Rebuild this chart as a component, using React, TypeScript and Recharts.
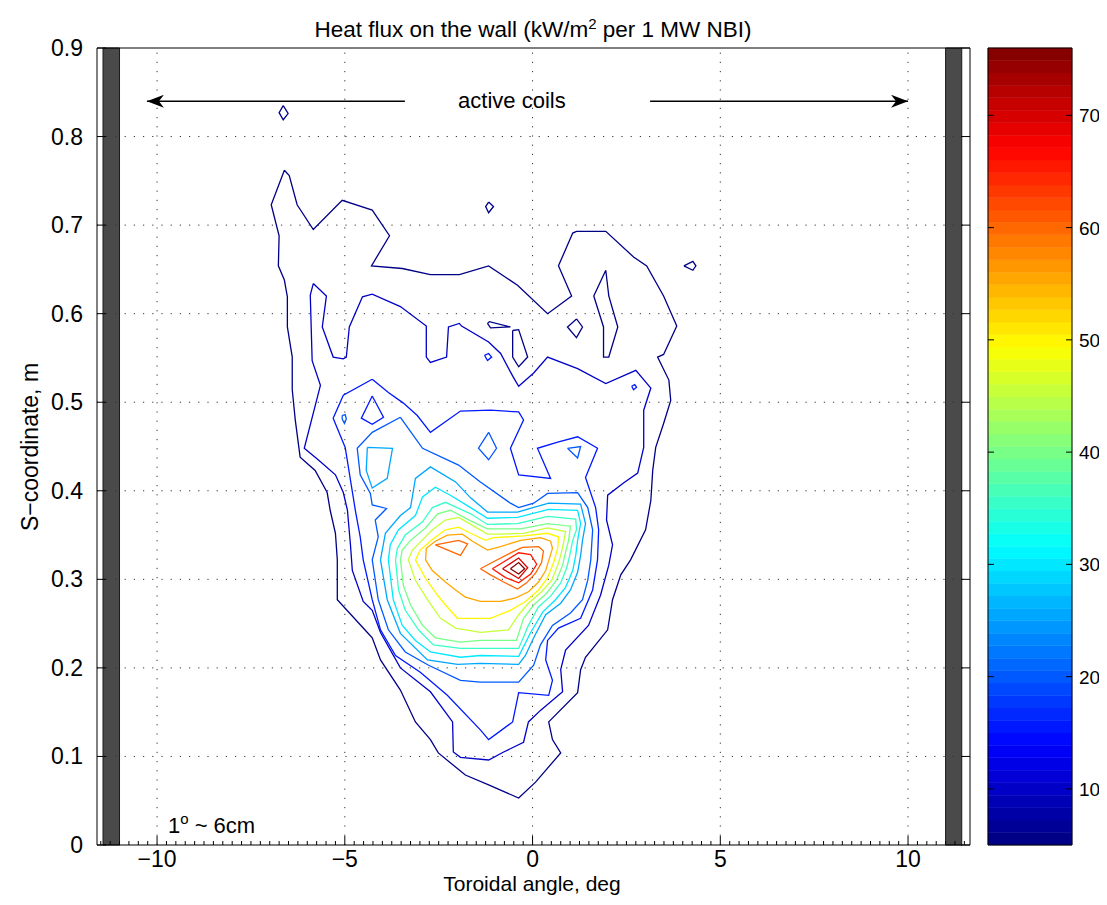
import React from 'react';
import { ScatterChart, Scatter, XAxis, YAxis, ReferenceLine, ReferenceArea } from 'recharts';

const FONT = '"Liberation Sans", Arial, Helvetica, sans-serif';

// axes
const X_DOMAIN = [-11.6, 11.65];
const Y_DOMAIN = [0, 0.9];
const MAJOR_X = [-10, -5, 0, 5, 10];
const Y_TICKS = [0, 0.1, 0.2, 0.3, 0.4, 0.5, 0.6, 0.7, 0.8, 0.9];
const Y_LABELS = ['0', '0.1', '0.2', '0.3', '0.4', '0.5', '0.6', '0.7', '0.8', '0.9'];
const MINOR_STEP = 0.25;
const X_TICKS: number[] = [];
for (let v = -11.5; v <= 11.5; v += MINOR_STEP) X_TICKS.push(v);

// colour scale
const CB_MIN = 5;
const CB_MAX = 76;
const CB_N = 64;
const CB_TICKS = [10, 20, 30, 40, 50, 60, 70];

// wall tiles (deg)
const WALL_LEFT = [-11.44, -11.0];
const WALL_RIGHT = [11.0, 11.43];

// annotations
const ARROW_Y = 0.84;
const ARROW_LEFT = [[-3.4, ARROW_Y], [-10.27, ARROW_Y]];
const ARROW_RIGHT = [[3.13, ARROW_Y], [10.0, ARROW_Y]];
const COILS_LABEL = [-0.55, 0.832];
const SCALE_LABEL = [-9.71, 0.0135];

// contour lines, [toroidal angle, s] ; level in kW/m2
const C5_OUTER = [[-6.61,0.762],[-6.48,0.756],[-6.27,0.723],[-5.84,0.695],[-5.07,0.728],[-4.27,0.717],[-3.81,0.688],[-4.29,0.654],[-3.47,0.651],[-2.72,0.644],[-1.95,0.644],[-1.17,0.654],[-0.40,0.632],[0.40,0.600],[1.04,0.620],[0.69,0.654],[1.07,0.691],[1.17,0.693],[1.95,0.693],[2.69,0.664],[3.04,0.654],[3.49,0.620],[3.84,0.586],[3.49,0.554],[3.33,0.551],[3.63,0.525],[3.68,0.502],[3.49,0.476],[3.28,0.449],[3.20,0.423],[3.15,0.389],[3.01,0.356],[2.61,0.322],[2.35,0.305],[2.13,0.277],[2.00,0.243],[1.41,0.212],[1.28,0.198],[1.20,0.172],[0.43,0.139],[0.53,0.119],[0.75,0.104],[0.08,0.071],[-0.37,0.053],[-1.17,0.068],[-1.79,0.079],[-2.51,0.104],[-2.72,0.119],[-3.12,0.139],[-3.52,0.175],[-4.05,0.209],[-4.27,0.234],[-4.40,0.240],[-5.20,0.277],[-5.20,0.322],[-5.25,0.352],[-5.39,0.378],[-5.47,0.398],[-5.79,0.423],[-6.19,0.438],[-6.32,0.480],[-6.40,0.514],[-6.40,0.551],[-6.53,0.585],[-6.53,0.619],[-6.61,0.638],[-6.77,0.654],[-6.75,0.688],[-6.96,0.723]];
const C5_A = [[-6.64,0.835],[-6.51,0.826],[-6.64,0.819],[-6.75,0.827]];
const C5_B = [[-1.17,0.726],[-1.04,0.721],[-1.17,0.714],[-1.25,0.721]];
const C5_C = [[4.03,0.654],[4.27,0.659],[4.35,0.654],[4.27,0.649]];
const C5_D = [[1.95,0.649],[2.03,0.620],[2.27,0.585],[2.03,0.551],[1.89,0.551],[1.89,0.585],[1.63,0.620]];
const C5_E = [[1.17,0.594],[1.33,0.585],[1.17,0.573],[0.93,0.585]];
const C5_F = [[-1.20,0.589],[-1.15,0.591],[-0.59,0.585],[-1.12,0.584]];
const C5_G = [[-0.53,0.581],[-0.37,0.582],[-0.13,0.551],[-0.37,0.540],[-0.53,0.551]];

const C10_MAIN = [[-5.84,0.634],[-5.49,0.620],[-5.60,0.585],[-5.31,0.551],[-5.04,0.549],[-4.96,0.551],[-4.88,0.585],[-4.53,0.619],[-4.27,0.622],[-3.52,0.608],[-2.83,0.586],[-2.83,0.551],[-2.72,0.545],[-2.29,0.551],[-2.24,0.585],[-1.95,0.589],[-1.89,0.586],[-1.17,0.568],[-0.85,0.555],[-0.51,0.528],[-0.37,0.518],[0.03,0.533],[0.40,0.551],[1.20,0.538],[1.95,0.521],[2.75,0.536],[3.15,0.516],[2.96,0.491],[2.96,0.449],[2.80,0.420],[2.43,0.409],[2.00,0.395],[1.97,0.367],[2.13,0.339],[2.03,0.316],[1.81,0.282],[1.49,0.248],[0.88,0.220],[0.75,0.198],[0.80,0.173],[0.21,0.152],[-0.11,0.139],[-0.24,0.116],[-0.77,0.105],[-1.17,0.096],[-1.92,0.099],[-2.11,0.105],[-2.13,0.139],[-2.72,0.173],[-3.52,0.200],[-4.05,0.240],[-4.27,0.265],[-4.51,0.275],[-4.80,0.310],[-4.85,0.339],[-4.93,0.378],[-5.04,0.398],[-5.25,0.418],[-5.71,0.435],[-6.08,0.448],[-5.65,0.519],[-5.87,0.547],[-5.92,0.621]];

const C15_MAIN = [[-4.27,0.526],[-3.84,0.511],[-3.44,0.499],[-3.07,0.485],[-2.72,0.466],[-1.92,0.490],[-1.12,0.491],[-0.37,0.489],[-0.24,0.480],[-0.59,0.448],[-0.37,0.418],[0.48,0.414],[0.13,0.448],[0.67,0.455],[1.20,0.461],[1.73,0.448],[1.41,0.415],[1.68,0.381],[1.76,0.356],[1.73,0.322],[1.60,0.288],[1.28,0.256],[0.69,0.245],[0.40,0.231],[0.35,0.209],[0.53,0.186],[0.43,0.169],[-0.37,0.172],[-0.53,0.139],[-1.17,0.119],[-1.39,0.130],[-2.27,0.169],[-2.99,0.195],[-3.65,0.214],[-4.05,0.243],[-4.27,0.277],[-4.51,0.322],[-4.59,0.348],[-4.72,0.378],[-4.99,0.449],[-5.31,0.482],[-5.04,0.508]];
const C15_A = [[-1.28,0.553],[-1.17,0.555],[-1.09,0.551],[-1.20,0.547]];
const C15_B = [[2.64,0.518],[2.72,0.520],[2.77,0.517],[2.69,0.514]];
const C15_HOLE = [[-4.27,0.507],[-3.97,0.483],[-4.27,0.475],[-4.56,0.482]];

const C20_MAIN = [[-3.52,0.483],[-2.93,0.448],[-1.97,0.429],[-1.39,0.410],[-0.59,0.386],[-0.37,0.381],[0.03,0.386],[0.40,0.397],[1.20,0.398],[1.47,0.381],[1.60,0.356],[1.55,0.322],[1.47,0.299],[1.33,0.277],[1.01,0.262],[0.53,0.248],[0.21,0.226],[0.03,0.203],[-0.37,0.184],[-1.39,0.184],[-1.92,0.186],[-2.77,0.203],[-3.39,0.218],[-3.84,0.243],[-4.11,0.277],[-4.27,0.322],[-4.11,0.348],[-4.19,0.367],[-3.89,0.380],[-4.27,0.384],[-4.32,0.397],[-4.59,0.418],[-4.67,0.448],[-4.27,0.466]];
const C20_A = [[-5.07,0.485],[-4.99,0.486],[-4.96,0.481],[-5.01,0.476],[-5.07,0.481]];
const C20_B = [[-1.17,0.466],[-0.96,0.448],[-1.17,0.435],[-1.44,0.448]];
const C20_C = [[0.93,0.448],[1.28,0.450],[1.20,0.437]];

const C25_MAIN = [[-4.05,0.322],[-3.92,0.352],[-3.52,0.372],[-3.25,0.381],[-3.12,0.414],[-2.72,0.427],[-2.05,0.410],[-1.65,0.392],[-1.20,0.376],[-0.40,0.376],[0.43,0.386],[1.28,0.385],[1.41,0.363],[1.33,0.344],[1.28,0.327],[1.20,0.308],[1.01,0.288],[0.75,0.273],[0.35,0.260],[0.03,0.234],[-0.19,0.214],[-0.37,0.204],[-1.39,0.205],[-2.00,0.204],[-2.80,0.209],[-3.52,0.239],[-3.87,0.277]];
const C25_A = [[-4.40,0.449],[-3.73,0.448],[-3.87,0.414],[-4.27,0.403],[-4.43,0.423]];

const C30 = [[-3.84,0.322],[-3.79,0.339],[-3.57,0.356],[-3.12,0.372],[-2.93,0.393],[-2.59,0.404],[-2.19,0.395],[-1.65,0.381],[-1.20,0.369],[-0.40,0.370],[0.43,0.379],[1.20,0.378],[1.28,0.363],[1.20,0.344],[1.15,0.327],[1.07,0.310],[0.88,0.291],[0.61,0.277],[0.27,0.263],[-0.05,0.240],[-0.37,0.213],[-1.39,0.214],[-1.92,0.212],[-2.72,0.218],[-3.12,0.231],[-3.47,0.248],[-3.71,0.277]];
const C35 = [[-3.65,0.322],[-3.60,0.335],[-3.39,0.350],[-2.93,0.365],[-2.67,0.381],[-2.32,0.387],[-1.65,0.374],[-1.20,0.362],[-0.40,0.363],[0.40,0.371],[1.15,0.368],[1.17,0.356],[1.07,0.344],[0.99,0.327],[0.91,0.313],[0.75,0.296],[0.48,0.281],[0.16,0.269],[-0.11,0.248],[-0.37,0.222],[-1.39,0.222],[-1.92,0.222],[-2.64,0.226],[-3.04,0.243],[-3.39,0.265],[-3.57,0.288]];
const C40 = [[-3.52,0.322],[-3.47,0.333],[-3.25,0.344],[-2.85,0.358],[-2.53,0.374],[-2.19,0.378],[-1.65,0.366],[-1.20,0.357],[-0.32,0.357],[0.40,0.363],[1.01,0.360],[0.96,0.344],[0.88,0.331],[0.80,0.316],[0.64,0.299],[0.37,0.284],[0.03,0.271],[-0.24,0.256],[-0.43,0.231],[-1.39,0.231],[-1.92,0.229],[-2.59,0.234],[-2.93,0.248],[-3.25,0.271],[-3.44,0.293]];
const C45 = [[-3.31,0.322],[-3.20,0.333],[-2.99,0.342],[-2.67,0.356],[-2.32,0.367],[-1.97,0.370],[-1.60,0.361],[-1.20,0.351],[-0.85,0.351],[-0.24,0.352],[0.40,0.358],[0.88,0.354],[0.83,0.342],[0.75,0.327],[0.67,0.316],[0.51,0.299],[0.24,0.286],[-0.11,0.273],[-0.37,0.260],[-0.64,0.243],[-1.39,0.240],[-2.05,0.245],[-2.45,0.256],[-2.80,0.277],[-3.12,0.299]];
const C50 = [[-3.12,0.322],[-2.99,0.333],[-2.67,0.345],[-2.32,0.356],[-1.97,0.359],[-1.65,0.352],[-1.25,0.344],[-1.04,0.347],[-0.24,0.349],[0.40,0.352],[0.69,0.348],[0.67,0.335],[0.56,0.319],[0.40,0.302],[0.16,0.288],[-0.19,0.275],[-0.59,0.265],[-1.12,0.256],[-2.00,0.256],[-2.32,0.271],[-2.53,0.282],[-2.85,0.301]];
const C55 = [[-2.85,0.322],[-2.83,0.335],[-2.59,0.343],[-2.27,0.350],[-1.87,0.351],[-1.60,0.343],[-1.20,0.333],[-0.85,0.337],[-0.32,0.344],[0.21,0.347],[0.48,0.343],[0.53,0.335],[0.45,0.324],[0.35,0.310],[0.16,0.297],[-0.11,0.286],[-0.45,0.279],[-0.85,0.275],[-1.39,0.275],[-1.79,0.280],[-2.05,0.288],[-2.32,0.297],[-2.67,0.310]];
const C60_A = [[-2.59,0.339],[-1.97,0.344],[-1.73,0.340],[-1.92,0.327]];
const C60_B = [[-1.39,0.312],[-0.99,0.321],[-0.53,0.331],[-0.27,0.336],[0.16,0.337],[0.29,0.332],[0.24,0.319],[0.08,0.307],[-0.16,0.296],[-0.40,0.289],[-0.77,0.297],[-1.12,0.305]];
const C65 = [[-1.07,0.312],[-0.72,0.321],[-0.37,0.330],[-0.05,0.328],[0.11,0.317],[-0.05,0.306],[-0.37,0.296],[-0.72,0.302]];
const C70 = [[-0.80,0.312],[-0.37,0.324],[-0.13,0.313],[-0.37,0.301]];
const C75 = [[-0.59,0.312],[-0.37,0.319],[-0.21,0.312],[-0.37,0.306]];

const CONTOURS = [
  { level: 5, pts: C5_OUTER }, { level: 5, pts: C5_A }, { level: 5, pts: C5_B }, { level: 5, pts: C5_C },
  { level: 5, pts: C5_D }, { level: 5, pts: C5_E }, { level: 5, pts: C5_F }, { level: 5, pts: C5_G },
  { level: 10, pts: C10_MAIN },
  { level: 15, pts: C15_MAIN }, { level: 15, pts: C15_A }, { level: 15, pts: C15_B }, { level: 15, pts: C15_HOLE },
  { level: 20, pts: C20_MAIN }, { level: 20, pts: C20_A }, { level: 20, pts: C20_B }, { level: 20, pts: C20_C },
  { level: 25, pts: C25_MAIN }, { level: 25, pts: C25_A },
  { level: 30, pts: C30 }, { level: 35, pts: C35 }, { level: 40, pts: C40 }, { level: 45, pts: C45 },
  { level: 50, pts: C50 }, { level: 55, pts: C55 },
  { level: 60, pts: C60_A }, { level: 60, pts: C60_B },
  { level: 65, pts: C65 }, { level: 70, pts: C70 }, { level: 75, pts: C75 },
];

// jet colormap
const jet = (t: number) => {
  const c = (v: number) => Math.max(0, Math.min(1, v));
  const r = c(1.5 - Math.abs(4 * t - 3));
  const g = c(1.5 - Math.abs(4 * t - 2));
  const b = c(1.5 - Math.abs(4 * t - 1));
  return `rgb(${Math.round(r * 255)},${Math.round(g * 255)},${Math.round(b * 255)})`;
};
const levelColor = (v: number) => {
  const i = Math.min(CB_N - 1, Math.max(0, Math.floor(((v - CB_MIN) / (CB_MAX - CB_MIN)) * CB_N)));
  return jet((i + 0.5) / CB_N);
};
const BANDS = Array.from({ length: CB_N }, (_, i) => ({
  y1: CB_MIN + (i * (CB_MAX - CB_MIN)) / CB_N,
  y2: CB_MIN + ((i + 1) * (CB_MAX - CB_MIN)) / CB_N,
  color: jet((i + 0.5) / CB_N),
}));

const closed = (pts: number[][]) => pts.concat([pts[0]]).map(([x, y]) => ({ x, y }));
const open = (pts: number[][]) => pts.map(([x, y]) => ({ x, y }));
const fmtX = (v: number) => (v < 0 ? '\u2212' + Math.abs(v) : String(v));
const noShape = () => <g />;

const BottomTick = (p: any) => {
  const major = MAJOR_X.includes(p.payload.value);
  return (
    <g>
      <line x1={p.x} y1={p.y} x2={p.x} y2={p.y - (major ? 9 : 4)} stroke="#000" />
      {major && (
        <text x={p.x} y={p.y + 22} textAnchor="middle" fontSize={23} fontFamily={FONT} fill="#000">
          {fmtX(p.payload.value)}
        </text>
      )}
    </g>
  );
};
const TopTick = (p: any) => {
  const major = MAJOR_X.includes(p.payload.value);
  return <line x1={p.x} y1={p.y} x2={p.x} y2={p.y + (major ? 9 : 4)} stroke="#000" />;
};
const LeftTick = (p: any) => {
  const i = Y_TICKS.indexOf(p.payload.value);
  return (
    <g>
      <line x1={p.x} y1={p.y} x2={p.x + 9} y2={p.y} stroke="#000" />
      <text x={p.x - 14} y={p.y + 8} textAnchor="end" fontSize={23} fontFamily={FONT} fill="#000">
        {Y_LABELS[i]}
      </text>
    </g>
  );
};
const RightTick = (p: any) => <line x1={p.x} y1={p.y} x2={p.x - 9} y2={p.y} stroke="#000" />;
const CbarTick = (p: any) => (
  <g>
    <line x1={p.x} y1={p.y} x2={p.x - 6} y2={p.y} stroke="#000" />
    <line x1={p.x - 84} y1={p.y} x2={p.x - 78} y2={p.y} stroke="#000" />
    <text x={p.x + 7} y={p.y + 7} fontSize={19} fontFamily={FONT} fill="#000">
      {p.payload.value}
    </text>
  </g>
);

const headLeft = (p: any) => (
  <path d={`M${p.cx},${p.cy} L${p.cx + 17},${p.cy - 6.5} L${p.cx + 12},${p.cy} L${p.cx + 17},${p.cy + 6.5} Z`} fill="#000" />
);
const headRight = (p: any) => (
  <path d={`M${p.cx},${p.cy} L${p.cx - 17},${p.cy - 6.5} L${p.cx - 12},${p.cy} L${p.cx - 17},${p.cy + 6.5} Z`} fill="#000" />
);
const coilsText = (p: any) => (
  <text x={p.cx} y={p.cy} textAnchor="middle" fontSize={22} fontFamily={FONT} fill="#000">
    active coils
  </text>
);
const scaleText = (p: any) => (
  <text x={p.cx} y={p.cy} fontSize={22} fontFamily={FONT} fill="#000">
    1<tspan dy={-9} fontSize={15}>o</tspan>
    <tspan dy={9}> ~ 6cm</tspan>
  </text>
);

export default function App() {
  return (
    <div style={{ position: 'relative', width: 1091, height: 889, fontFamily: FONT, background: '#fff' }}>
      <div style={{ position: 'absolute', left: 175, top: 9, width: 700, textAlign: 'center', fontSize: 22.5, lineHeight: '26px' }}>
        Heat flux on the wall (kW/m<sup style={{ fontSize: 15, lineHeight: 0 }}>2</sup> per 1 MW NBI)
      </div>
      <div style={{ position: 'absolute', left: 274, top: 865, width: 500, textAlign: 'center', fontSize: 21, lineHeight: '21px' }}>
        Toroidal angle, deg
      </div>
      <div
        style={{
          position: 'absolute', left: -128, top: 426, width: 300, textAlign: 'center', fontSize: 23,
          lineHeight: '26px', transform: 'rotate(-90deg)',
        }}
      >
        S−coordinate, m
      </div>

      <div style={{ position: 'absolute', left: 0, top: 0 }}>
        <ScatterChart width={1091} height={889} margin={{ top: 30, right: 119, bottom: 22, left: 29 }}>
          <XAxis type="number" dataKey="x" domain={X_DOMAIN} ticks={X_TICKS} interval={0} allowDataOverflow
            height={30} tickSize={0} tickMargin={0} tickLine={false} axisLine={{ stroke: '#000' }} tick={BottomTick} />
          <XAxis xAxisId="t" orientation="top" type="number" domain={X_DOMAIN} ticks={X_TICKS} interval={0} allowDataOverflow
            height={10} tickSize={0} tickMargin={0} tickLine={false} axisLine={{ stroke: '#000' }} tick={TopTick} />
          <YAxis type="number" dataKey="y" domain={Y_DOMAIN} ticks={Y_TICKS} interval={0} allowDataOverflow
            width={60} tickSize={0} tickMargin={0} tickLine={false} axisLine={{ stroke: '#000' }} tick={LeftTick} />
          <YAxis yAxisId="r" orientation="right" type="number" domain={Y_DOMAIN} ticks={Y_TICKS} interval={0} allowDataOverflow
            width={10} tickSize={0} tickMargin={0} tickLine={false} axisLine={{ stroke: '#000' }} tick={RightTick} />

          {MAJOR_X.map((v) => (
            <ReferenceLine key={'gx' + v} x={v} stroke="#333" strokeDasharray="1.2 8" />
          ))}
          {Y_TICKS.slice(1, -1).map((v) => (
            <ReferenceLine key={'gy' + v} y={v} stroke="#333" strokeDasharray="1.2 8" />
          ))}

          <ReferenceArea x1={WALL_LEFT[0]} x2={WALL_LEFT[1]} y1={0} y2={0.9} fill="#4a4a4a" fillOpacity={1} stroke="#1a1a1a" />
          <ReferenceArea x1={WALL_RIGHT[0]} x2={WALL_RIGHT[1]} y1={0} y2={0.9} fill="#4a4a4a" fillOpacity={1} stroke="#1a1a1a" />

          {CONTOURS.map((c, i) => (
            <Scatter key={'c' + i} data={closed(c.pts)} line={{ stroke: levelColor(c.level), strokeWidth: 1.3, fill: 'none' }}
              lineJointType="linear" shape={noShape} isAnimationActive={false} legendType="none" />
          ))}

          <Scatter data={open(ARROW_LEFT)} line={{ stroke: '#000', strokeWidth: 1.5 }} lineJointType="linear" shape={noShape} isAnimationActive={false} />
          <Scatter data={open(ARROW_RIGHT)} line={{ stroke: '#000', strokeWidth: 1.5 }} lineJointType="linear" shape={noShape} isAnimationActive={false} />
          <Scatter data={open([ARROW_LEFT[1]])} shape={headLeft} isAnimationActive={false} />
          <Scatter data={open([ARROW_RIGHT[1]])} shape={headRight} isAnimationActive={false} />
          <Scatter data={open([COILS_LABEL])} shape={coilsText} isAnimationActive={false} />
          <Scatter data={open([SCALE_LABEL])} shape={scaleText} isAnimationActive={false} />
        </ScatterChart>
      </div>

      <div style={{ position: 'absolute', left: 975, top: 0 }}>
        <ScatterChart width={116} height={889} margin={{ top: 40, right: 2, bottom: 52, left: 5 }}>
          <XAxis type="number" dataKey="x" domain={[0, 1]} hide />
          <YAxis type="number" dataKey="y" orientation="right" domain={[CB_MIN, CB_MAX]} ticks={CB_TICKS} interval={0}
            allowDataOverflow width={25} tickSize={0} tickMargin={0} tickLine={false} axisLine={false} tick={CbarTick} />
          {BANDS.map((b, i) => (
            <ReferenceArea key={'b' + i} x1={0} x2={1} y1={b.y1} y2={b.y2} fill={b.color} fillOpacity={1} stroke={b.color} strokeWidth={0.5} />
          ))}
          <ReferenceArea x1={0} x2={1} y1={CB_MIN} y2={CB_MAX} fill="none" stroke="#000" strokeWidth={1} />
          <Scatter data={BANDS.map((b) => ({ x: 0.5, y: (b.y1 + b.y2) / 2 }))} shape={noShape} isAnimationActive={false} />
        </ScatterChart>
      </div>
    </div>
  );
}
